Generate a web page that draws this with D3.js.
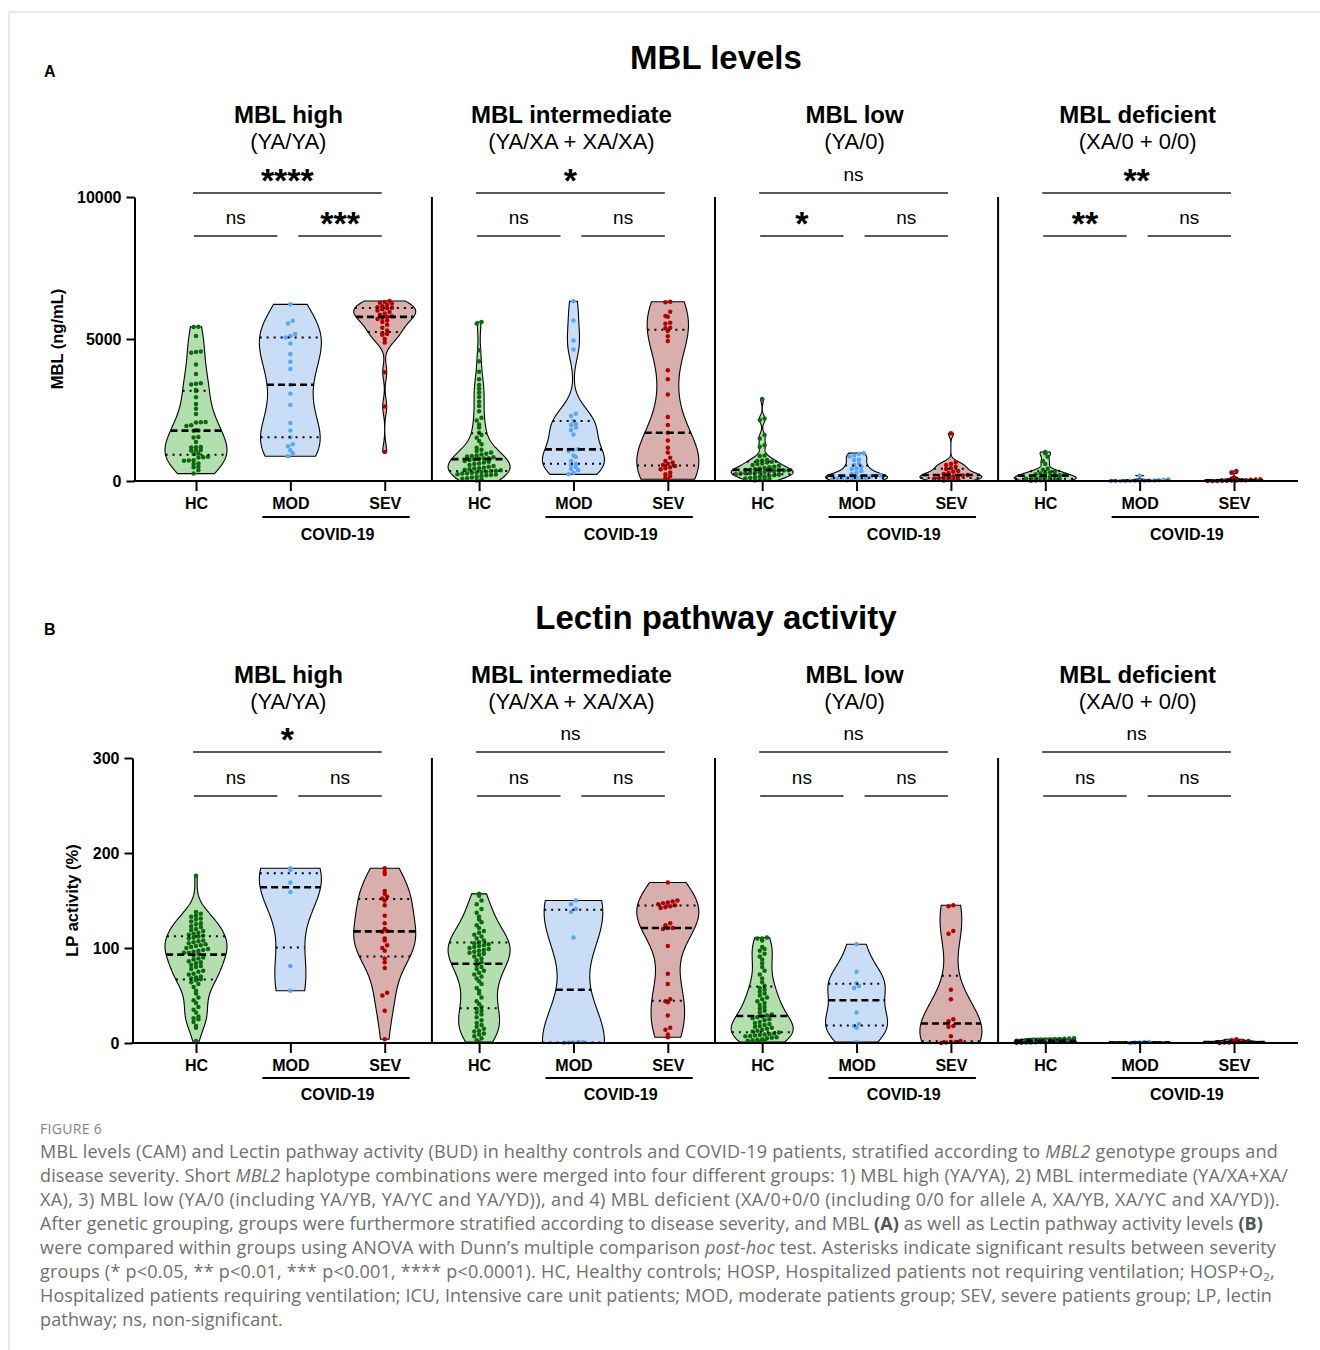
<!DOCTYPE html>
<html><head><meta charset="utf-8">
<script src="https://cdn.jsdelivr.net/npm/d3@7"></script>
<style>html,body{margin:0;padding:0;background:#fff}svg{display:block}</style>
</head><body>
<svg id="chart"></svg>
<script>
// ---------------- DATA ----------------
const categories = ["HC", "MOD", "SEV"];
const genotypeGroups = ["MBL high", "MBL intermediate", "MBL low", "MBL deficient"];
const genotypeSub = ["(YA/YA)", "(YA/XA + XA/XA)", "(YA/0)", "(XA/0 + 0/0)"];
const mblTicks = [0, 5000, 10000];
const lpTicks = [0, 100, 200, 300];

// Panel A: MBL (ng/mL)
const mbl_high_HC = [5430,5420,5110,4560,4540,4520,4100,3770,3440,3420,3400,3200,3170,2950,2710,2540,2360,2080,2070,2060,1960,1940,1790,1780,1770,1550,1530,1370,1200,1190,1180,1090,1080,1070,970,950,850,840,830,730,720,710,620,600,500,480,380,260];
const mbl_high_MOD = [6220,5640,5550,5180,5110,5050,4840,4470,4200,3940,3390,3070,2680,2040,1780,1540,1290,1220,1080,980,870];
const mbl_high_SEV = [6340,6300,6280,6250,6200,6150,6120,6100,6080,6050,6000,5950,5900,5850,5800,5780,5750,5700,5650,5600,5500,5400,5300,5200,5180,5150,5000,4880,3830,2620,1020];
const mbl_int_HC = [5600,5550,4600,4220,3850,3580,3380,3250,3110,2960,2790,2640,2460,2230,2130,1990,1880,1700,1620,1525,1410,1290,1170,1100,1060,1000,960,930,900,880,860,840,800,790,780,760,740,700,680,650,620,600,560,530,500,470,450,440,410,400,380,360,350,330,320,300,290,270,260,240,230,210,200,175,150,120,100,80,60,20];
const mbl_int_MOD = [6330,5650,4950,4630,2370,2290,2110,2000,1970,1880,1795,1640,1115,1100,1060,900,845,700,610,560,490,420,375,290,235];
const mbl_int_SEV = [6310,6290,5960,5810,5780,5570,5540,5400,5380,5280,5100,4930,3900,3580,3050,2250,1970,1700,1430,1170,1000,820,700,650,610,560,530,480,450,410,300,235,180,120,60];
const mbl_low_HC = [2890,2200,2150,1620,1500,1260,1210,900,880,740,720,700,680,650,620,600,560,540,500,480,460,440,420,400,390,380,370,360,350,340,320,300,290,280,270,260,240,220,200,180,160,150,130,110,90,70,50,35,20];
const mbl_low_MOD = [980,950,900,860,760,740,620,560,500,450,420,350,300,250,200,180,160,150,140,130,120,110,100,90,80,70,60,40,30,20];
const mbl_low_SEV = [1680,660,600,560,500,450,420,350,330,280,250,210,190,175,160,130,117,100,80,60,40,35,20];
const mbl_def_HC = [1020,980,850,700,600,430,400,320,300,280,260,240,220,200,180,160,140,120,100,90,80,70,60,50,40,30,20,10];
const mbl_def_MOD = [190,60,40,30,20,15,10,10,5,5,0,0,0,0];
const mbl_def_SEV = [350,290,120,60,50,40,30,25,20,15,10,5,3,0,0];

// Panel B: LP activity (%)
const lp_high_HC = [176,138,136,134,133,131,130,128,126,125,123,122,120,119,118,116,115,114,113,112,111,110,108,107,106,105,104,103,102,101,100,99,98,97,96,95,95,94,92,90,89,88,86,85,84,82,81,80,78,76,75,73,72,70,69,68,67,66,64,62,59,55,52,48,45,42,38,35,32,28,26,25,22,18,16,2];
const lp_high_MOD = [184,182,169,159,81,55];
const lp_high_SEV = [184,180,178,160,157,154,152,150,145,134,126,120,118,117,110,108,103,100,97,89,85,79,53,50,34,4];
const lp_int_HC = [157,155,150,146,141,137,133,130,127,124,121,118,116,114,112,110,108,106,105,104,103,102,101,100,99,98,97,96,95,94,93,91,89,87,85,82,80,78,76,74,72,70,68,65,62,58,55,52,48,44,41,38,36,34,32,30,27,24,21,19,17,15,13,12,10,9,7,5,3,1];
const lp_int_MOD = [150,146,141,138,111,1,1,0.5,0.5,0];
const lp_int_SEV = [169,150,149,148,147,146,145,144,143,142,126,124,121,121,120,102,73,62,46,44,43,29,16,14,9,6];
const lp_low_HC = [111,110,110,108,101,99,97,94,91,88,84,80,76,72,68,64,60,58,56,54,52,50,48,46,44,42,40,38,36,34,32,30,29,28,27,26,25,24,22,21,20,19,18,17,16,15,14,13,12,11,10,9.5,9,8.5,8,7.5,7,6,5.5,5,4,3.5,3,2.5,2,1];
const lp_low_MOD = [104,75,63,60,58,32,20,18,16,1];
const lp_low_SEV = [145,144,118,115,56,46,25,23,18,17,7,2,1,1,0.5,0];
const lp_def_HC = [5,4.8,4.5,4.2,4,3.8,3.5,3.3,3,2.8,2.6,2.5,2.4,2.2,2,1.8,1.6,1.5,1.3,1.1,1,0.8,0.6,0.4,0.2,0];
const lp_def_MOD = [1,1,0.5,0.5,0];
const lp_def_SEV = [4,3,2,1.5,1,1,0.5,0.5,0];

// significance labels: [HC vs SEV (top), HC vs MOD, MOD vs SEV]
const sigMBL = [["****","ns","***"],["*","ns","ns"],["ns","*","ns"],["**","**","ns"]];
const sigLP  = [["*","ns","ns"],["ns","ns","ns"],["ns","ns","ns"],["ns","ns","ns"]];

const captionLines = [
  [["MBL levels (CAM) and Lectin pathway activity (BUD) in healthy controls and COVID-19 patients, stratified according to "],["MBL2","i"],[" genotype groups and"]],
  [["disease severity. Short "],["MBL2","i"],[" haplotype combinations were merged into four different groups: 1) MBL high (YA/YA), 2) MBL intermediate (YA/XA+XA/"]],
  [["XA), 3) MBL low (YA/0 (including YA/YB, YA/YC and YA/YD)), and 4) MBL deficient (XA/0+0/0 (including 0/0 for allele A, XA/YB, XA/YC and XA/YD))."]],
  [["After genetic grouping, groups were furthermore stratified according to disease severity, and MBL "],["(A)","b"],[" as well as Lectin pathway activity levels "],["(B)","b"]],
  [["were compared within groups using ANOVA with Dunn\u2019s multiple comparison "],["post-hoc","i"],[" test. Asterisks indicate significant results between severity"]],
  [["groups (* p<0.05, ** p<0.01, *** p<0.001, **** p<0.0001). HC, Healthy controls; HOSP, Hospitalized patients not requiring ventilation; HOSP+O"],["2","sub"],[","]],
  [["Hospitalized patients requiring ventilation; ICU, Intensive care unit patients; MOD, moderate patients group; SEV, severe patients group; LP, lectin"]],
  [["pathway; ns, non-significant."]]
];

// ---------------- DRAWING ----------------
const W = 1320, H = 1350;
const FONT = "'Liberation Sans', Arial, Helvetica, sans-serif";
const CAPFONT = "'Open Sans', 'Noto Sans', sans-serif";
const style = {
  HC:  {fill: "#b3dfae", dot: "#0b6a0b"},
  MOD: {fill: "#c9ddf6", dot: "#5aa6f6"},
  SEV: {fill: "#d8afad", dot: "#b00000"}
};
const svg = d3.select("#chart").attr("width", W).attr("height", H)
  .attr("font-family", FONT);

svg.append("rect").attr("width", W).attr("height", H).attr("fill", "#fff");
svg.append("line").attr("x1", 9).attr("x2", W).attr("y1", 12).attr("y2", 12).attr("stroke", "#d2d2d2");
svg.append("line").attr("x1", 9).attr("x2", 9).attr("y1", 12).attr("y2", H).attr("stroke", "#d2d2d2");

const keys = genotypeGroups.flatMap(g => categories.map(c => g + "|" + c));
const x = d3.scalePoint().domain(keys).range([196, 1234]);

const panels = [
  {label: "A", title: "MBL levels", yTitle: "MBL (ng/mL)", ticks: mblTicks, sig: sigMBL,
   data: [[mbl_high_HC, mbl_high_MOD, mbl_high_SEV], [mbl_int_HC, mbl_int_MOD, mbl_int_SEV],
          [mbl_low_HC, mbl_low_MOD, mbl_low_SEV], [mbl_def_HC, mbl_def_MOD, mbl_def_SEV]],
   top: 197, bottom: 481, axisX: 134.5, labelY: 77, titleY: 69, sub1Y: 122.5, sub2Y: 149,
   bTop: 193, bLow: 236, covBar: 517, covText: 540, yTitleX: 63},
  {label: "B", title: "Lectin pathway activity", yTitle: "LP activity (%)", ticks: lpTicks, sig: sigLP,
   data: [[lp_high_HC, lp_high_MOD, lp_high_SEV], [lp_int_HC, lp_int_MOD, lp_int_SEV],
          [lp_low_HC, lp_low_MOD, lp_low_SEV], [lp_def_HC, lp_def_MOD, lp_def_SEV]],
   top: 758, bottom: 1043, axisX: 132.5, labelY: 635, titleY: 629, sub1Y: 683, sub2Y: 709,
   bTop: 752, bLow: 796, covBar: 1078, covText: 1100, yTitleX: 78}
];

const MAXW = 31, ROWH = 4.4, DX = 4.8, R = 2.25;

function kdeProfile(vals) {
  const s = vals.slice().sort(d3.ascending);
  const n = s.length, lo = s[0], hi = s[n - 1];
  const sd = d3.deviation(s) || 0;
  const iqr = d3.quantile(s, 0.75) - d3.quantile(s, 0.25);
  let spread = Math.min(sd, iqr / 1.34);
  if (!(spread > 0)) spread = sd;
  let h = 0.9 * spread * Math.pow(n, -0.2);
  if (!(h > 0)) h = (hi - lo) / 10 || 1;
  const dens = v => d3.sum(s, d => Math.exp(-0.5 * ((v - d) / h) ** 2));
  const steps = 160;
  const grid = d3.range(steps + 1).map(i => lo + (hi - lo) * i / steps);
  const dv = grid.map(dens);
  const m = d3.max(dv);
  return {
    lo, hi, sorted: s,
    prof: grid.map((v, i) => ({v, w: MAXW * dv[i] / m})),
    width: v => MAXW * dens(v) / m
  };
}

function swarm(vals, y, cx) {
  const base = y(0);
  const rows = d3.group(vals, v => Math.round((base - y(v)) / ROWH));
  const pts = [];
  for (const [, arr] of rows) {
    const a = arr.slice().sort(d3.ascending);
    const n = a.length;
    a.forEach((v, i) => pts.push({x: cx + (i - (n - 1) / 2) * DX, y: y(v)}));
  }
  return pts;
}

panels.forEach(p => {
  const g = svg.append("g");
  const y = d3.scaleLinear().domain([0, d3.max(p.ticks)]).range([p.bottom, p.top]);

  g.append("text").attr("x", 44).attr("y", p.labelY).attr("font-size", 16).attr("font-weight", 700).text(p.label);
  g.append("text").attr("x", 716).attr("y", p.titleY).attr("text-anchor", "middle")
    .attr("font-size", 33).attr("font-weight", 700).text(p.title);

  // y axis title
  g.append("text").attr("transform", `translate(${p.yTitleX},${(p.top + p.bottom) / 2}) rotate(-90)`)
    .attr("text-anchor", "middle").attr("font-size", 16.5).attr("font-weight", 700).text(p.yTitle);

  // separators between genotype groups
  for (let gi = 0; gi < genotypeGroups.length - 1; gi++) {
    const xs = (x(genotypeGroups[gi] + "|SEV") + x(genotypeGroups[gi + 1] + "|HC")) / 2;
    g.append("line").attr("x1", xs).attr("x2", xs).attr("y1", p.top).attr("y2", p.bottom)
      .attr("stroke", "#000").attr("stroke-width", 2);
  }

  genotypeGroups.forEach((gg, gi) => {
    const hc = x(gg + "|HC"), mod = x(gg + "|MOD"), sev = x(gg + "|SEV");
    g.append("text").attr("x", mod - 2).attr("y", p.sub1Y).attr("text-anchor", "middle")
      .attr("font-size", 24).attr("font-weight", 700).text(gg);
    g.append("text").attr("x", mod - 2).attr("y", p.sub2Y).attr("text-anchor", "middle")
      .attr("font-size", 22).text(genotypeSub[gi]);

    // significance brackets
    const br = [
      {x1: hc - 3, x2: sev - 3, y: p.bTop, t: p.sig[gi][0]},
      {x1: hc - 2, x2: mod - 13, y: p.bLow, t: p.sig[gi][1]},
      {x1: mod + 8, x2: sev - 3, y: p.bLow, t: p.sig[gi][2]}
    ];
    br.forEach(b => {
      g.append("line").attr("x1", b.x1).attr("x2", b.x2).attr("y1", b.y).attr("y2", b.y)
        .attr("stroke", "#222").attr("stroke-width", 1.3);
      const isStar = b.t.indexOf("*") >= 0;
      g.append("text").attr("x", (b.x1 + b.x2) / 2)
        .attr("y", isStar ? b.y - 1 : b.y - 12)
        .attr("text-anchor", "middle")
        .attr("font-size", isStar ? 34 : 19).attr("font-weight", isStar ? 700 : 400)
        .text(b.t);
    });

    // COVID-19 bracket
    g.append("line").attr("x1", mod - 28).attr("x2", sev + 25).attr("y1", p.covBar).attr("y2", p.covBar)
      .attr("stroke", "#000").attr("stroke-width", 2);
    g.append("text").attr("x", (mod + sev) / 2).attr("y", p.covText).attr("text-anchor", "middle")
      .attr("font-size", 16).attr("font-weight", 700).text("COVID-19");

    // violins
    categories.forEach((c, ci) => {
      const vals = p.data[gi][ci];
      const cx = x(gg + "|" + c);
      const k = kdeProfile(vals);
      const vg = g.append("g");
      if (k.hi > k.lo) {
        const area = d3.area().y(d => y(d.v)).x0(d => cx - d.w).x1(d => cx + d.w);
        vg.append("path").attr("d", area(k.prof)).attr("fill", style[c].fill)
          .attr("stroke", "#000").attr("stroke-width", 1.1);
      }
      vg.selectAll("circle").data(swarm(vals, y, cx)).join("circle")
        .attr("cx", d => d.x).attr("cy", d => d.y).attr("r", R).attr("fill", style[c].dot);
      if (k.hi > k.lo) {
        const qs = [
          {q: d3.quantile(k.sorted, 0.25), dash: "2,5", sw: 2},
          {q: d3.quantile(k.sorted, 0.75), dash: "2,5", sw: 2},
          {q: d3.quantile(k.sorted, 0.5), dash: "7,4", sw: 2.6}
        ];
        qs.forEach(o => {
          const w = k.width(o.q);
          vg.append("line").attr("x1", cx - w).attr("x2", cx + w).attr("y1", y(o.q)).attr("y2", y(o.q))
            .attr("stroke", "#000").attr("stroke-width", o.sw).attr("stroke-dasharray", o.dash);
        });
      }
    });
  });

  // baseline
  g.append("line").attr("x1", p.axisX - 1).attr("x2", 1298).attr("y1", p.bottom).attr("y2", p.bottom)
    .attr("stroke", "#000").attr("stroke-width", 2);

  // y axis
  const ya = g.append("g").attr("transform", `translate(${p.axisX},0)`)
    .call(d3.axisLeft(y).tickValues(p.ticks).tickSize(8).tickSizeOuter(0).tickPadding(5).tickFormat(d3.format("d")));
  ya.select(".domain").attr("stroke", "#000").attr("stroke-width", 2);
  ya.selectAll(".tick line").attr("stroke", "#000").attr("stroke-width", 2);
  ya.selectAll("text").attr("font-size", 16).attr("font-weight", 700).attr("font-family", FONT).attr("fill", "#000");

  // x axis
  const xa = g.append("g").attr("transform", `translate(0,${p.bottom})`)
    .call(d3.axisBottom(x).tickSize(10).tickPadding(6.5).tickFormat(k => k.split("|")[1]));
  xa.select(".domain").remove();
  xa.selectAll(".tick line").attr("stroke", "#000").attr("stroke-width", 2);
  xa.selectAll("text").attr("font-size", 16).attr("font-weight", 700).attr("font-family", FONT).attr("fill", "#000");
});

// ---------------- CAPTION ----------------
const cap = svg.append("g").attr("font-family", CAPFONT).attr("fill", "#6f6f6f");
cap.append("text").attr("x", 40).attr("y", 1134).attr("font-size", 14).attr("fill", "#858585")
  .attr("letter-spacing", 0.3).text("FIGURE 6");
const capRight = [1278, 1288, 1280, 1263, 1276, 1275, 1272, 283];
captionLines.forEach((segs, i) => {
  const t = cap.append("text").attr("x", 40).attr("y", 1158 + 24 * i).attr("font-size", 18);
  let shifted = false;
  segs.forEach(s => {
    const ts = t.append("tspan").text(s[0]);
    if (s[1] === "i") ts.attr("font-style", "italic");
    if (s[1] === "b") ts.attr("font-weight", 700).attr("fill", "#555");
    if (s[1] === "sub") { ts.attr("dy", 3).attr("font-size", 11.5); shifted = true; }
    else if (shifted) { ts.attr("dy", -3); shifted = false; }
  });
  const w = t.node().getComputedTextLength();
  const n = t.text().length;
  t.attr("letter-spacing", ((capRight[i] - 40) - w) / n);
});
</script>
</body></html>
